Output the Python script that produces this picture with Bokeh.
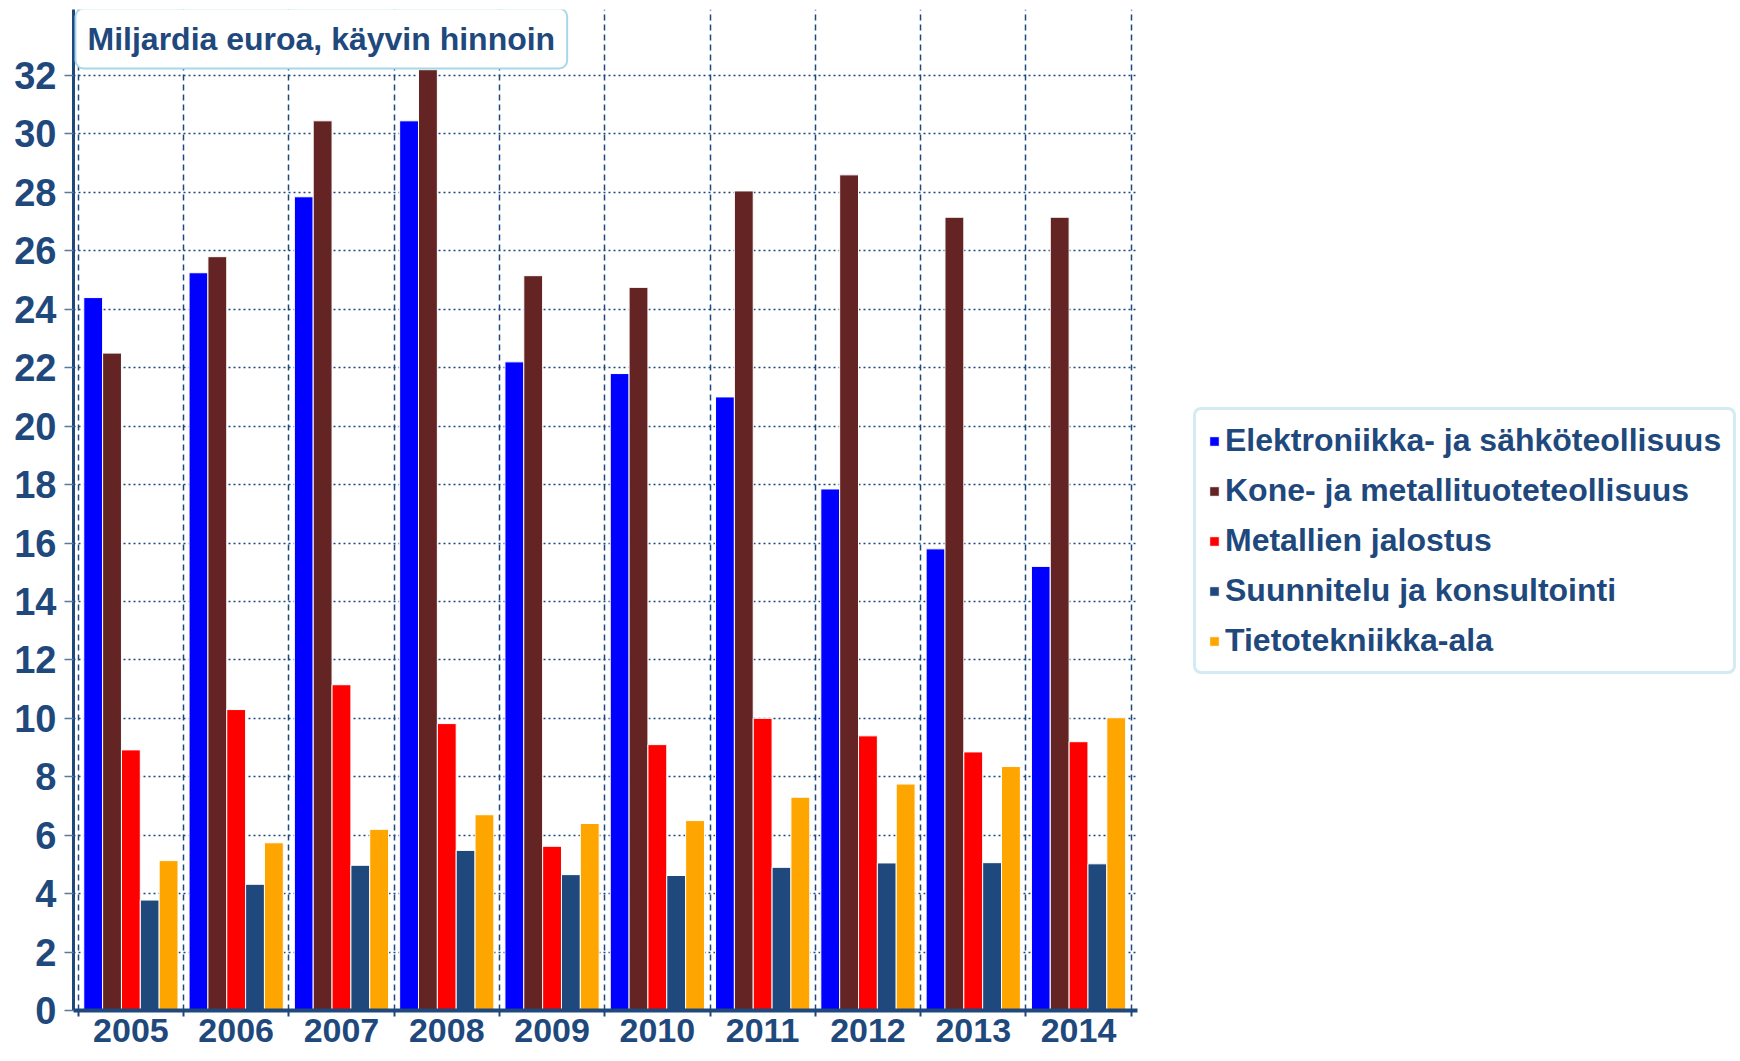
from bokeh.plotting import figure
from bokeh.models import FixedTicker, Legend, LegendItem, Label, Range1d
from bokeh.embed import file_html
from bokeh.resources import INLINE
import numpy as np

# ---- data ----
years = ["2005", "2006", "2007", "2008", "2009", "2010", "2011", "2012", "2013", "2014"]
elektroniikka = [24.4, 25.25, 27.85, 30.45, 22.2, 21.8, 21.0, 17.85, 15.8, 15.2]
kone = [22.5, 25.8, 30.45, 32.2, 25.15, 24.75, 28.05, 28.6, 27.15, 27.15]
metallien = [8.92, 10.3, 11.15, 9.82, 5.62, 9.1, 10.0, 9.4, 8.85, 9.2]
suunnittelu = [3.78, 4.32, 4.97, 5.48, 4.65, 4.62, 4.9, 5.05, 5.06, 5.02]
tieto = [5.13, 5.74, 6.2, 6.7, 6.4, 6.5, 7.3, 7.75, 8.35, 10.02]
series_names = ["Elektroniikka- ja sähköteollisuus", "Kone- ja metallituoteteollisuus",
                "Metallien jalostus", "Suunnitelu ja konsultointi", "Tietotekniikka-ala"]
series_values = [elektroniikka, kone, metallien, suunnittelu, tieto]
colors = ["#0000FF", "#632423", "#FF0000", "#1F497D", "#FFA500"]
y_ticks = [0, 2, 4, 6, 8, 10, 12, 14, 16, 18, 20, 22, 24, 26, 28, 30, 32]
title_text = "Miljardia euroa, käyvin hinnoin"

TEXT = "#1F497D"
FONT = "Liberation Sans"
FRAME_W, FRAME_H = 1064, 1001

n = len(years)
centers = [i + 0.5 for i in range(n)]
boundaries = list(range(n + 1))
bar_w = 0.179

# min_border_bottom leaves a few px of slack below the year labels
p = figure(frame_width=FRAME_W, frame_height=FRAME_H,
           x_range=Range1d(-0.045, n + 0.06), y_range=Range1d(0, 34.26),
           output_backend="svg", toolbar_location=None,
           min_border_left=73, min_border_top=9, min_border_bottom=51,
           min_border_right=20, background_fill_color="white",
           border_fill_color="white")
p.outline_line_color = None

renderers = []
for i, (vals, col) in enumerate(zip(series_values, colors)):
    xs = np.array(centers) + (i - 2) * bar_w
    r = p.vbar(x=xs, top=vals, width=bar_w, fill_color=col,
               line_color="white", line_width=1)
    renderers.append(r)

# axes
xa = p.xaxis[0]
xa.ticker = FixedTicker(ticks=centers, minor_ticks=boundaries)
xa.major_label_overrides = {c: y for c, y in zip(centers, years)}
xa.major_tick_in = 0
xa.major_tick_out = 0
xa.minor_tick_in = 0
xa.minor_tick_out = 6
xa.minor_tick_line_color = TEXT
xa.minor_tick_line_width = 2
xa.axis_line_color = TEXT
xa.axis_line_width = 4
xa.major_label_text_font = FONT
xa.major_label_text_font_style = "bold"
xa.major_label_text_font_size = "34px"
xa.major_label_text_color = TEXT
xa.major_label_standoff = 2

ya = p.yaxis[0]
ya.ticker = FixedTicker(ticks=y_ticks)
ya.minor_tick_line_color = None
ya.major_tick_in = 0
ya.major_tick_out = 9
ya.major_tick_line_color = "#5A7AA0"
ya.major_tick_line_width = 1.5
ya.axis_line_color = TEXT
ya.axis_line_width = 3
ya.major_label_text_font = FONT
ya.major_label_text_font_style = "bold"
ya.major_label_text_font_size = "38px"
ya.major_label_text_color = TEXT
ya.major_label_standoff = 8

# grids
p.xgrid.ticker = FixedTicker(ticks=boundaries)
p.xgrid.grid_line_color = TEXT
p.xgrid.grid_line_dash = "6 4"
p.xgrid.grid_line_width = 1.5
p.ygrid.grid_line_color = TEXT
p.ygrid.grid_line_dash = "2 3"
p.ygrid.grid_line_width = 1.3

# title box
lab_kw = dict(x=2, y=FRAME_H + 1, x_units="screen", y_units="screen", text=title_text,
              text_font=FONT, text_font_style="bold", text_font_size="32px",
              text_color=TEXT, text_align="left", text_baseline="top",
              background_fill_color="white", border_line_color="#A8D8E8",
              border_line_width=2)
lprops = Label.properties()
if "padding" in lprops:
    lab_kw["padding"] = 12
if "border_radius" in lprops:
    lab_kw["border_radius"] = 8
p.add_layout(Label(**lab_kw))

# legend (right side panel; margin 28 on each side gives a 56px gap to the plot)
items = [LegendItem(label=nm, renderers=[r]) for nm, r in zip(series_names, renderers)]
leg_kw = dict(items=items, location=(56, 336), label_text_font=FONT,
              label_text_font_style="bold", label_text_font_size="32px",
              label_text_color=TEXT, glyph_width=12, glyph_height=12,
              label_standoff=5, padding=12, spacing=13, margin=28,
              border_line_color="#A8D8E8", border_line_width=3,
              background_fill_color="white", background_fill_alpha=1.0)
if "border_radius" in Legend.properties():
    leg_kw["border_radius"] = 8
p.add_layout(Legend(**leg_kw), "right")

open("out.html", "w").write(file_html(p, INLINE))
